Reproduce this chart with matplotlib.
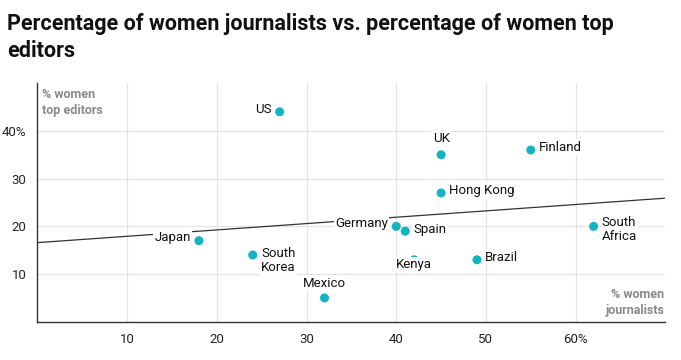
import numpy as np
import matplotlib
matplotlib.use("Agg")
import matplotlib.pyplot as plt

plt.rcParams['font.family'] = ['Roboto', 'DejaVu Sans']

countries = ["US", "UK", "Finland", "Hong Kong", "Germany", "Spain", "Kenya",
             "Brazil", "South\nAfrica", "Japan", "South\nKorea", "Mexico"]
pct_journalists = [27, 45, 55, 45, 40, 41, 42, 49, 62, 18, 24, 32]
pct_editors = [44, 35, 36, 27, 20, 19, 13, 13, 20, 17, 14, 5]
# label placement: (dx, dy) in points, ha, va
label_pos = {
    "US": (-6, 2, 'right', 'center'),
    "UK": (0, 7, 'center', 'bottom'),
    "Finland": (6, 2, 'left', 'center'),
    "Hong Kong": (6, 2, 'left', 'center'),
    "Germany": (-6, 2, 'right', 'center'),
    "Spain": (6, 1, 'left', 'center'),
    "Kenya": (0, -3.5, 'center', 'center'),
    "Brazil": (6, 2, 'left', 'center'),
    "South\nAfrica": (6, -2, 'left', 'center'),
    "Japan": (-6, 2, 'right', 'center'),
    "South\nKorea": (6, -4, 'left', 'center'),
    "Mexico": (0, 6, 'center', 'bottom'),
}
xticks = [10, 20, 30, 40, 50, 60]
xticklabels = ["10", "20", "30", "40", "50", "60%"]
yticks = [10, 20, 30, 40]
yticklabels = ["10", "20", "30", "40%"]

fig = plt.figure(figsize=(6.81, 3.6), dpi=100)
ax = fig.add_axes([0.055, 0.106, 0.922, 0.663])

ax.set_xlim(0, 70)
ax.set_ylim(0, 50)
ax.set_xticks(xticks)
ax.set_xticklabels(xticklabels)
ax.set_yticks(yticks)
ax.set_yticklabels(yticklabels)
ax.tick_params(length=0, labelsize=9.5, colors='#222222', pad=8)
ax.grid(True, color='#e4e4e4', linewidth=0.9)
ax.set_axisbelow(True)
for s in ['top', 'right']:
    ax.spines[s].set_visible(False)
for s in ['left', 'bottom']:
    ax.spines[s].set_color('#333333')
    ax.spines[s].set_linewidth(1)

# trend line
slope, intercept = np.polyfit(pct_journalists, pct_editors, 1)
xs = np.array([0, 70])
ax.plot(xs, slope * xs + intercept, color='#333333', linewidth=0.9, zorder=2)

ax.scatter(pct_journalists, pct_editors, s=42, color='#14b3c4', zorder=3,
           edgecolors='none')

for c, x, y in zip(countries, pct_journalists, pct_editors):
    dx, dy, ha, va = label_pos[c]
    ax.annotate(c, (x, y), xytext=(dx, dy), textcoords='offset points',
                ha=ha, va=va, fontsize=9.5, color='#111111', zorder=4,
                linespacing=1.1,
                bbox=dict(boxstyle='square,pad=0.1', fc='white', ec='none'))

ax.text(0.008, 0.98, "% women\ntop editors", transform=ax.transAxes,
        ha='left', va='top', fontsize=9, fontweight='bold', color='#8a8a8a',
        linespacing=1.3)
ax.text(0.998, 0.02, "% women\njournalists", transform=ax.transAxes,
        ha='right', va='bottom', fontsize=9, fontweight='bold', color='#8a8a8a',
        linespacing=1.3)

fig.text(0.01, 0.965, "Percentage of women journalists vs. percentage of women top\neditors",
         ha='left', va='top', fontsize=15.5, fontweight='bold', color='#111111',
         linespacing=1.3)

fig.savefig("out.png", dpi=100)
